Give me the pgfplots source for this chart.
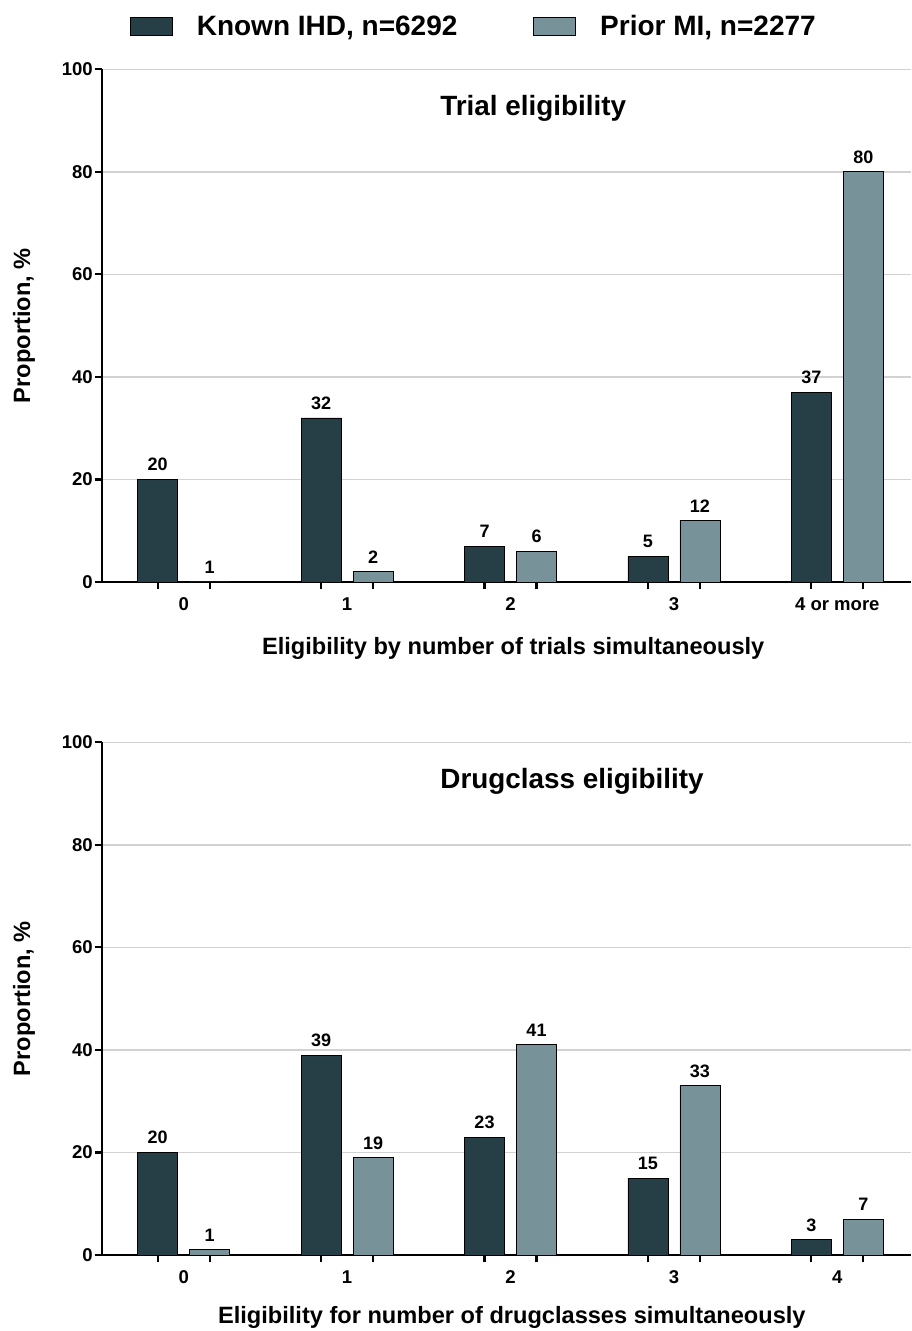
\documentclass[border=0pt]{standalone}
\usepackage{pgfplots}
\pgfplotsset{compat=1.18}
\usepackage{pgfplotstable}
\usepackage{fontspec}
\setmainfont{Liberation Sans}
\definecolor{darkbar}{RGB}{38,62,70}
\definecolor{lightbar}{RGB}{119,147,153}
\definecolor{gridgray}{RGB}{210,210,210}

\pgfplotstableread{
x y lab
0 20 20
1 32 32
2 7 7
3 5 5
4 37 37
}\trialIHD
\pgfplotstableread{
x y lab
0 0 1
1 2 2
2 6 6
3 12 12
4 80 80
}\trialMI
\pgfplotstableread{
x y lab
0 20 20
1 39 39
2 23 23
3 15 15
4 3 3
}\drugIHD
\pgfplotstableread{
x y lab
0 1 1
1 19 19
2 41 41
3 33 33
4 7 7
}\drugMI

\pgfplotsset{
  mystyle/.style={
    scale only axis, width=606.75pt, height=384.5pt,
    xmin=-0.5, xmax=4.451, ymin=0, ymax=100,
    axis lines=left, axis line style={-, line width=2pt, black},
    tick align=outside,
    ytick={0,20,40,60,80,100},
    xtick={0,1,2,3,4},
    minor xtick={-0.159,0.159,0.841,1.159,1.841,2.159,2.841,3.159,3.841,4.159},
    major x tick style={draw=none},
    minor x tick style={line width=1.6pt, black},
    major y tick style={line width=1.6pt, black},
    major tick length=5.25pt, minor tick length=5.5pt,
    ymajorgrids, grid style={gridgray, line width=1pt},
    /pgf/number format/assume math mode=true,
    ticklabel style={font=\bfseries\fontsize{13.9}{15}\selectfont},
    xticklabel style={inner sep=0pt, anchor=north, yshift=-6.5pt},
    yticklabel style={inner sep=0pt, anchor=east, xshift=-1.5pt},
    label style={font=\bfseries\fontsize{17.7}{20}\selectfont},
    ylabel style={at={(axis description cs:-0.0964,0.5)}, anchor=center},
    nodes near coords,
    point meta=explicit symbolic,
    every node near coord/.append style={font=\bfseries\fontsize{13.5}{15}\selectfont, inner sep=0pt, anchor=south, yshift=6pt, black},
    legend image code/.code={\draw[##1, line width=0.6pt] (0pt,-6.75pt) rectangle (31.5pt,6.75pt);},
  },
  ihd/.style={ybar, bar width=30pt, bar shift=-19.5pt, fill=darkbar, draw=black, line width=0.6pt,
    every node near coord/.append style={xshift=-19.5pt}},
  mi/.style={ybar, bar width=30pt, bar shift=19.5pt, fill=lightbar, draw=black, line width=0.6pt,
    every node near coord/.append style={xshift=19.5pt}},
}

\begin{document}
\begin{tikzpicture}
\path[use as bounding box] (0,0) rectangle (683.25pt,998.25pt);
\begin{axis}[mystyle,
  at={(76.5pt,561.75pt)}, anchor=south west,
  xticklabels={0,1,2,3,4 or more},
  xlabel={Eligibility by number of trials simultaneously},
  ylabel={Proportion, \%},
  xlabel style={at={(axis description cs:0.5,0)}, anchor=center, xshift=5pt, yshift=-49.5pt},
  legend columns=2,
  legend style={draw=none, fill=none, inner sep=0pt, outer sep=0pt,
    at={(0.0346,1.084)}, anchor=west,
    font=\bfseries\fontsize{21}{24}\selectfont,
    /tikz/every odd column/.style={column sep=16pt},
    /tikz/every even column/.style={column sep=55pt}},
]
\addplot[ihd] table[x=x,y=y,meta=lab] {\trialIHD};
\addlegendentry{Known IHD, n=6292}
\addplot[mi] table[x=x,y=y,meta=lab] {\trialMI};
\addlegendentry{Prior MI, n=2277}
\node[font=\bfseries\fontsize{20.9}{24}\selectfont] at (rel axis cs:0.533,0.924) {Trial eligibility};
\end{axis}
\begin{axis}[mystyle,
  at={(76.5pt,57pt)}, anchor=south west,
  xticklabels={0,1,2,3,4},
  xlabel={Eligibility for number of drugclasses simultaneously},
  ylabel={Proportion, \%},
  xlabel style={at={(axis description cs:0.5,0)}, anchor=center, xshift=4pt, yshift=-47pt},
]
\addplot[ihd] table[x=x,y=y,meta=lab] {\drugIHD};
\addplot[mi] table[x=x,y=y,meta=lab] {\drugMI};
\node[font=\bfseries\fontsize{20.9}{24}\selectfont] at (rel axis cs:0.581,0.924) {Drugclass eligibility};
\end{axis}
\end{tikzpicture}
\end{document}
